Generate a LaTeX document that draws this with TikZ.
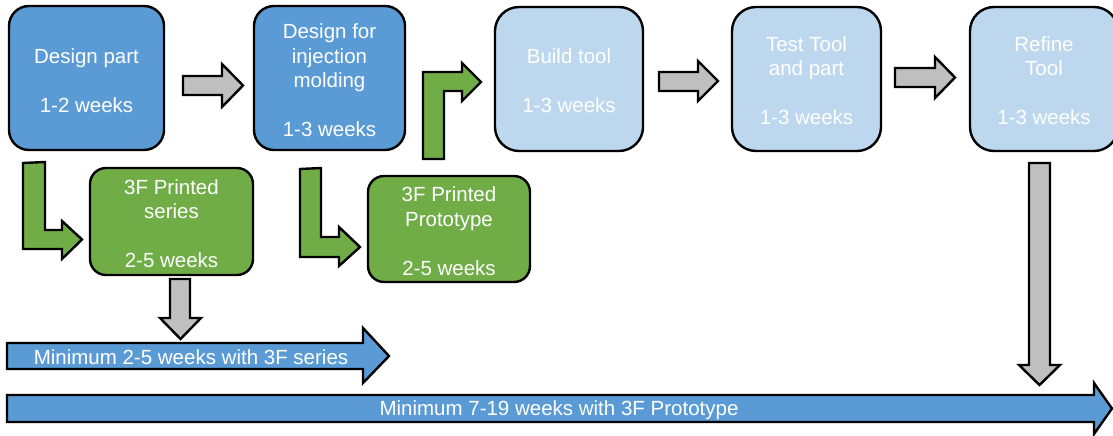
\documentclass[tikz,border=0pt]{standalone}
\usepackage{fontspec}
\setmainfont{Liberation Sans}
\definecolor{dblue}{HTML}{5B9BD5}
\definecolor{lblue}{HTML}{BDD7EE}
\definecolor{pgreen}{HTML}{70AD47}
\definecolor{agray}{HTML}{BFBFBF}
\begin{document}
\begin{tikzpicture}[x=1pt,y=-1pt,
  box/.style={draw=black, line width=2.4pt, rounded corners=20pt, inner sep=0pt},
  boxtext/.style={text=white, align=center, font=\fontsize{20.5}{24.5}\selectfont, inner sep=0pt},
  darkbox/.style={box, fill=dblue},
  lightbox/.style={box, fill=lblue, rounded corners=24pt},
  greenbox/.style={box, fill=pgreen, rounded corners=16pt},
  blockarrow/.style={draw=black, line width=2.4pt, line join=miter},
  grayarrow/.style={blockarrow, fill=agray},
  greenarrow/.style={blockarrow, fill=pgreen},
  bluearrow/.style={blockarrow, fill=dblue},
  arrowtext/.style={text=white, font=\fontsize{20.5}{24.5}\selectfont, inner sep=0pt}]
\useasboundingbox (0,0) rectangle (1113,436);
\clip (0,0) rectangle (1113,436);

% boxes
\node[darkbox, minimum width=155pt, minimum height=144pt] (dp) at (86.5,78) {};
\node[boxtext] (dpt) at ([yshift=-2.5pt]dp.center) {Design part\\\mbox{}\\1-2 weeks};
\node[darkbox, minimum width=151pt, minimum height=144pt] (dim) at (329.5,78) {};
\node[boxtext] (dimt) at ([yshift=-2.5pt]dim.center) {Design for\\injection\\molding\\\mbox{}\\1-3 weeks};
\node[lightbox, minimum width=148pt, minimum height=144pt] (bt) at (569,79) {};
\node[boxtext] (btt) at ([yshift=-2pt]bt.center) {Build tool\\\mbox{}\\1-3 weeks};
\node[lightbox, minimum width=149pt, minimum height=144pt] (tt) at (806.5,79) {};
\node[boxtext] (ttt) at ([yshift=-1.5pt]tt.center) {Test Tool\\and part\\\mbox{}\\1-3 weeks};
\node[lightbox, minimum width=148pt, minimum height=144pt] (rt) at (1044,79) {};
\node[boxtext] (rtt) at ([yshift=-1.5pt]rt.center) {Refine\\Tool\\\mbox{}\\1-3 weeks};
\node[greenbox, minimum width=163pt, minimum height=107pt] (ser) at (171.5,221.5) {};
\node[boxtext] (sert) at ([yshift=-2pt]ser.center) {3F Printed\\series\\\mbox{}\\2-5 weeks};
\node[greenbox, minimum width=162pt, minimum height=106pt] (pro) at (449,229) {};
\node[boxtext] (prot) at ([yshift=-2pt]pro.center) {3F Printed\\Prototype\\\mbox{}\\2-5 weeks};

% gray right arrows
\draw[grayarrow] (183,76) -- (222,76) -- (222,64) -- (243,85.5) -- (222,107) -- (222,95) -- (183,95) -- cycle;
\draw[grayarrow] (659,72) -- (698,72) -- (698,61) -- (718,81) -- (698,101) -- (698,91) -- (659,91) -- cycle;
\draw[grayarrow] (895,68) -- (935,68) -- (935,57) -- (955,77.5) -- (935,98) -- (935,87) -- (895,87) -- cycle;

% gray down arrows
\draw[grayarrow] (170,279) -- (190,279) -- (190,318) -- (201,318) -- (180.5,339) -- (160,318) -- (170,318) -- cycle;
\draw[grayarrow] (1029,163) -- (1050,163) -- (1050,365) -- (1060,365) -- (1039.5,385) -- (1019,365) -- (1029,365) -- cycle;

% green bent arrows
\draw[greenarrow] (23,163) -- (45,162) -- (45,230) -- (62,230) -- (62,221) -- (82,239.5) -- (62,259) -- (62,249) -- (23,249) -- cycle;
\draw[greenarrow] (300,169) -- (321,168) -- (321,237) -- (339,237) -- (339,227) -- (360,247) -- (339,266) -- (339,257) -- (300,257) -- cycle;
\draw[greenarrow] (423,159) -- (423,72) -- (462,72) -- (462,63) -- (481,82) -- (462,101) -- (462,91) -- (444,91) -- (444,159) -- cycle;

% blue timeline arrows
\draw[bluearrow] (7,343) -- (363,343) -- (363,328) -- (389,356) -- (363,383) -- (363,369) -- (7,369) -- cycle;
\node[arrowtext] (t1) at (191,357) {Minimum 2-5 weeks with 3F series};
\draw[bluearrow] (7,395) -- (1094,395) -- (1094,383) -- (1112,408.5) -- (1094,434) -- (1094,422) -- (7,422) -- cycle;
\node[arrowtext] (t2) at (559,410) {Minimum 7-19 weeks with 3F Prototype};
\end{tikzpicture}
\end{document}
